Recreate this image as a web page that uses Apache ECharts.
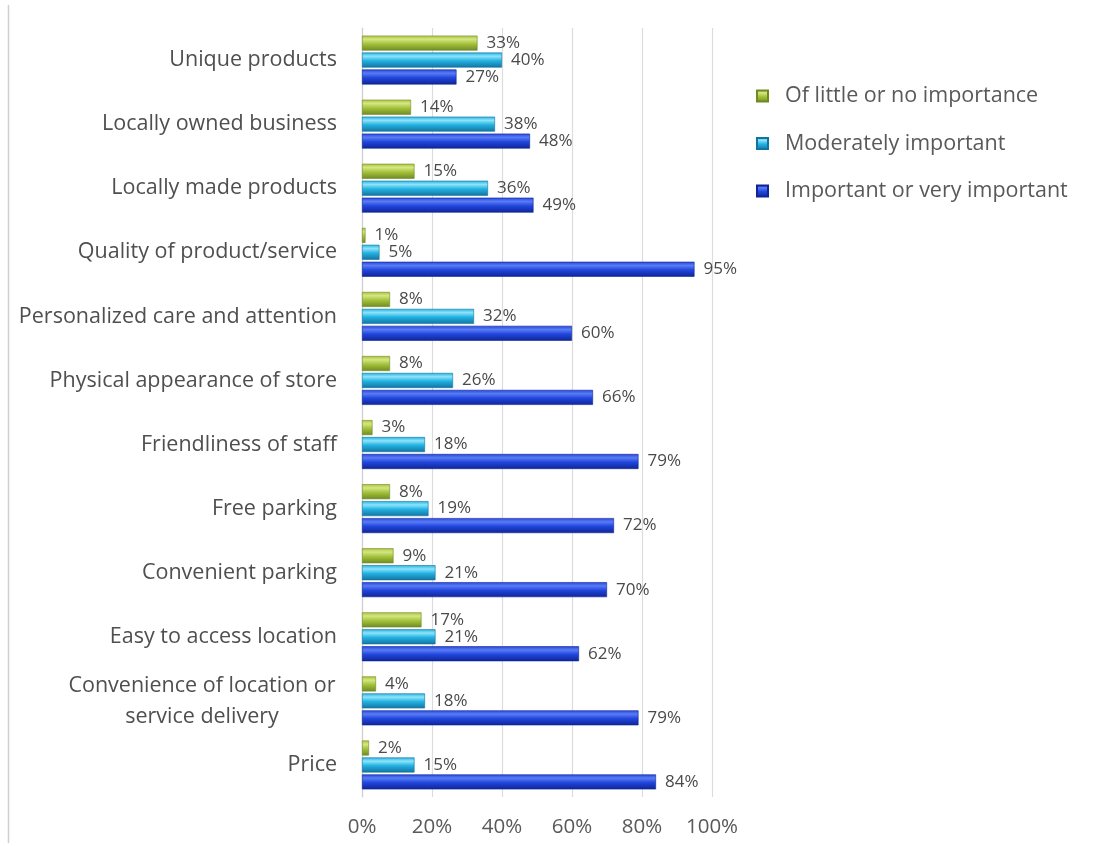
<!DOCTYPE html>
<html>
<head>
<meta charset="utf-8">
<script src="https://cdn.jsdelivr.net/npm/echarts@6/dist/echarts.min.js"></script>
<style>
  html, body { margin: 0; padding: 0; background: #ffffff; }
  #chart { width: 1093px; height: 846px; }
</style>
</head>
<body>
<div id="chart"></div>
<script>
// Survey factors, listed top to bottom
const categories = [
  'Unique products',
  'Locally owned business',
  'Locally made products',
  'Quality of product/service',
  'Personalized care and attention',
  'Physical appearance of store',
  'Friendliness of staff',
  'Free parking',
  'Convenient parking',
  'Easy to access location',
  'Convenience of location or service delivery',
  'Price'
];

const seriesNames = [
  'Of little or no importance',
  'Moderately important',
  'Important or very important'
];

const littleImportance    = [33, 14, 15, 1, 8, 8, 3, 8, 9, 17, 4, 2];
const moderatelyImportant = [40, 38, 36, 5, 32, 26, 18, 19, 21, 21, 18, 15];
const veryImportant       = [27, 48, 49, 95, 60, 66, 79, 72, 70, 62, 79, 84];

const xTicks = [0, 20, 40, 60, 80, 100];

// cylinder-like shading across each bar's thickness
function barGradient(light, mid, dark) {
  return new echarts.graphic.LinearGradient(0, 0, 0, 1, [
    { offset: 0, color: mid },
    { offset: 0.25, color: light },
    { offset: 0.55, color: mid },
    { offset: 1, color: dark }
  ]);
}

const palettes = [
  ['#d6e682', '#a5c23c', '#6f8a22'],
  ['#8ee4fa', '#22b1e2', '#13739f'],
  ['#5a7cf5', '#2146dc', '#0f2596']
];

const chart = echarts.init(document.getElementById('chart'), null, { renderer: 'canvas' });

const labelFont = '"Open Sans", "Liberation Sans", sans-serif';

function makeSeries(name, data, pal) {
  return {
    name: name,
    type: 'bar',
    data: data,
    barWidth: 15,
    barGap: '13%',
    itemStyle: {
      color: barGradient(pal[0], pal[1], pal[2]),
      borderColor: pal[2],
      borderWidth: 0.6
    },
    label: {
      show: true,
      position: 'right',
      distance: 9,
      formatter: '{c}%',
      color: '#4a4a4a',
      fontFamily: labelFont,
      fontSize: 17
    }
  };
}

const option = {
  backgroundColor: '#ffffff',
  animation: false,
  textStyle: { fontFamily: labelFont },
  graphic: [
    {
      type: 'line',
      shape: { x1: 8.5, y1: 5, x2: 8.5, y2: 843 },
      style: { stroke: '#d0d0d0', lineWidth: 1.5 }
    }
  ],
  legend: {
    orient: 'vertical',
    left: 751,
    top: 79,
    itemWidth: 11,
    itemHeight: 11,
    itemGap: 23.5,
    icon: 'rect',
    data: seriesNames,
    textStyle: {
      color: '#595959',
      fontSize: 21.5,
      lineHeight: 24,
      fontFamily: labelFont,
      padding: [0, 0, 0, 12]
    }
  },
  grid: {
    left: 362,
    right: 381,
    top: 28,
    bottom: 49,
    containLabel: false
  },
  xAxis: {
    type: 'value',
    min: 0,
    max: 100,
    interval: 20,
    axisLine: { show: false },
    axisTick: { show: false },
    splitLine: { show: true, lineStyle: { color: '#dcdcdc', width: 1.2 } },
    axisLabel: {
      formatter: function (v) { return xTicks.indexOf(v) >= 0 ? v + '%' : ''; },
      color: '#595959',
      fontSize: 20.5,
      fontFamily: labelFont,
      margin: 20
    }
  },
  yAxis: {
    type: 'category',
    data: categories,
    inverse: true,
    axisLine: { show: true, lineStyle: { color: '#cfcfcf', width: 1.2 } },
    axisTick: { show: false },
    axisLabel: {
      color: '#4f4f4f',
      fontSize: 21.5,
      fontFamily: labelFont,
      margin: 25,
      formatter: function (v) {
        if (v === 'Convenience of location or service delivery') {
          return '{c|Convenience of location or}\n{c|service delivery}';
        }
        return v;
      },
      rich: {
        c: {
          width: 270,
          align: 'center',
          fontSize: 21.5,
          color: '#4f4f4f',
          fontFamily: labelFont,
          lineHeight: 31
        }
      }
    }
  },
  series: [
    makeSeries(seriesNames[0], littleImportance, palettes[0]),
    makeSeries(seriesNames[1], moderatelyImportant, palettes[1]),
    makeSeries(seriesNames[2], veryImportant, palettes[2])
  ]
};

chart.setOption(option);
</script>
</body>
</html>
